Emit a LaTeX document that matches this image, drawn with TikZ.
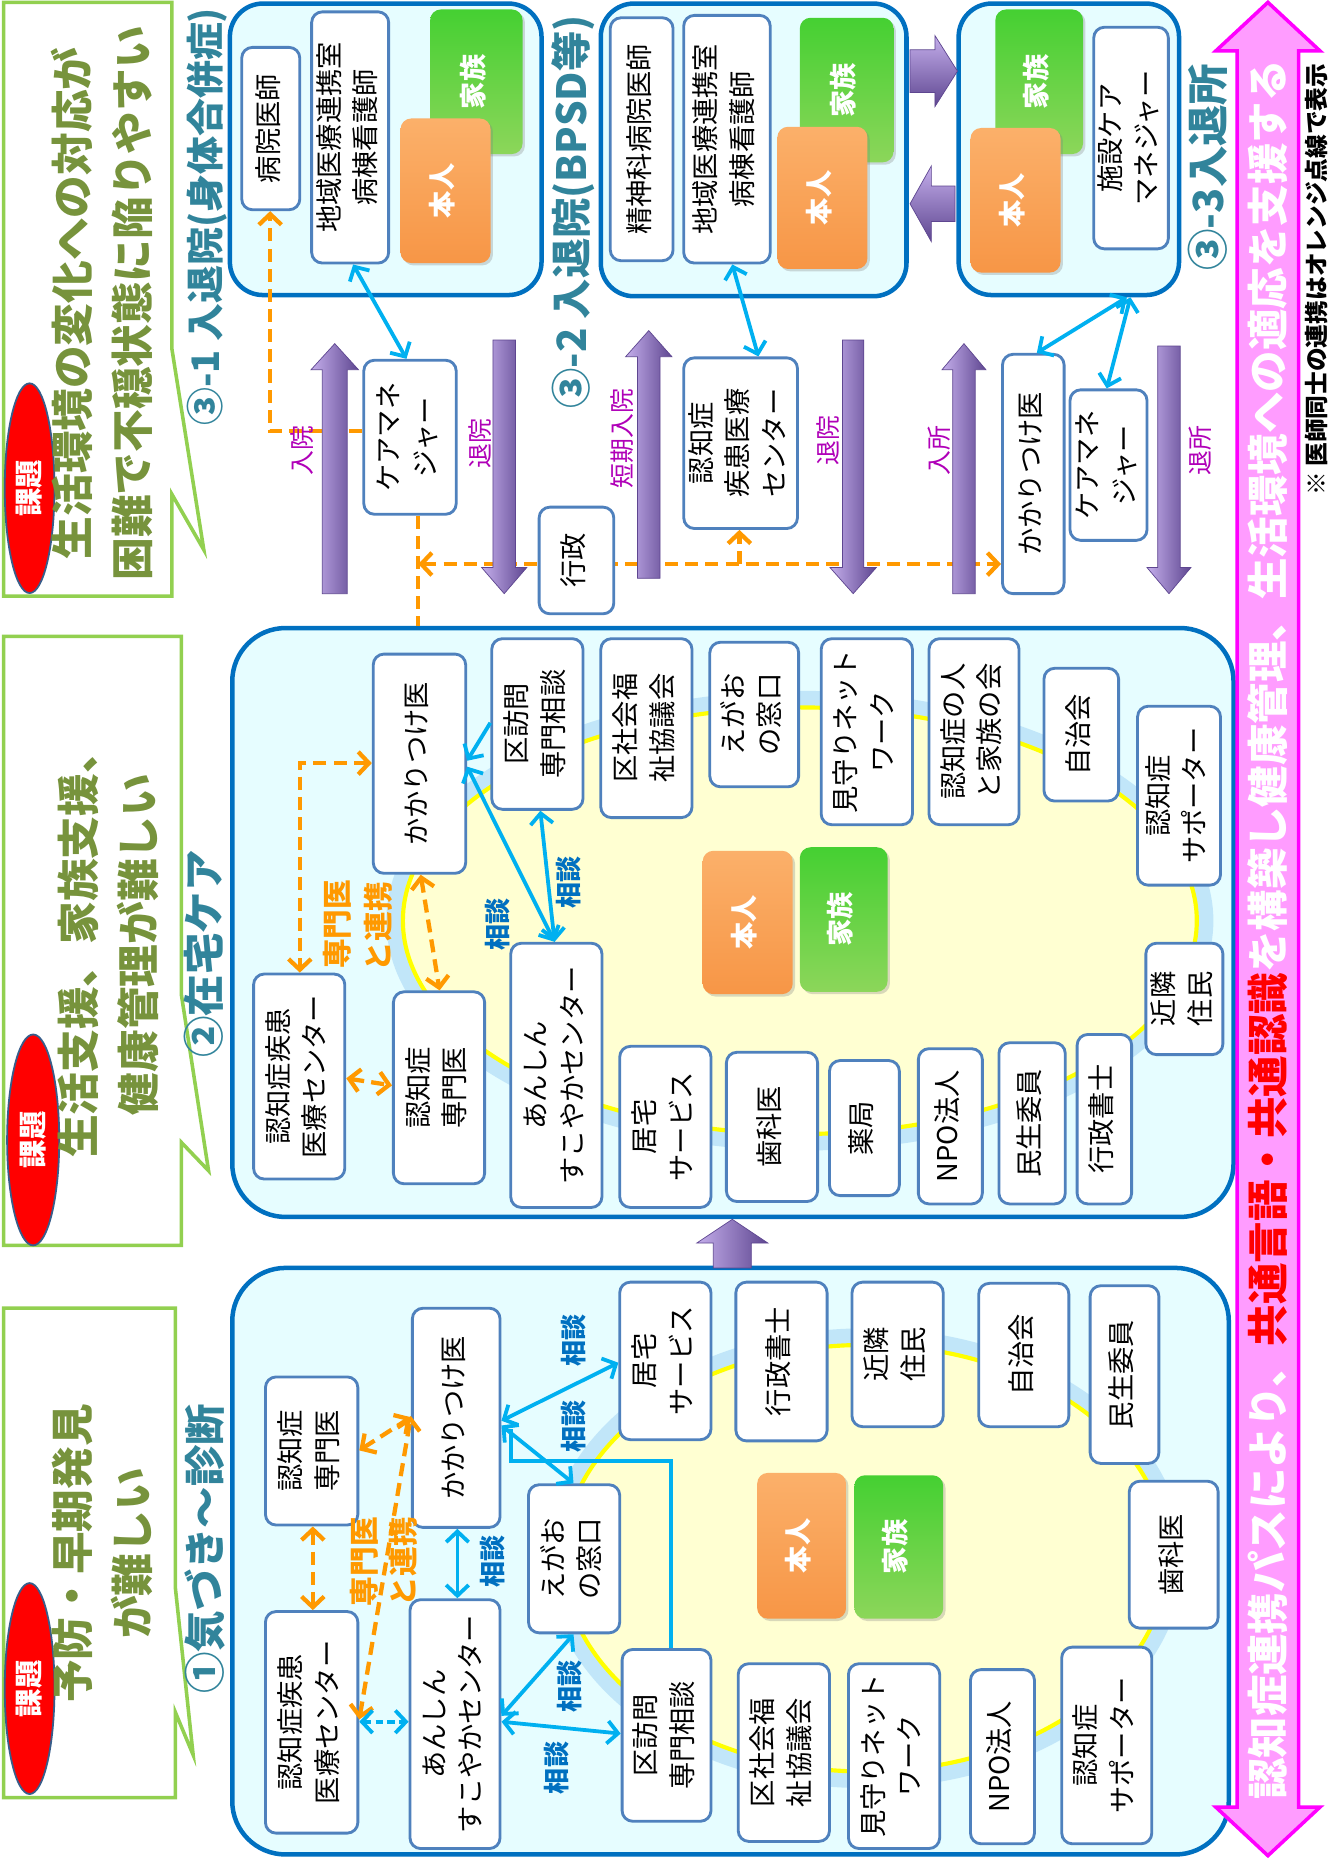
\documentclass[tikz,border=0pt]{standalone}
\usepackage{fontspec}
\setmainfont{Noto Sans CJK JP}
\usetikzlibrary{arrows.meta,shapes.geometric,shadows}
\definecolor{boxblue}{HTML}{4F81BD}
\definecolor{contblue}{HTML}{0070C0}
\definecolor{contfill}{HTML}{E6FDFF}
\definecolor{ellfill}{HTML}{FFFFD2}
\definecolor{ellline}{HTML}{FFFF00}
\definecolor{glowblue}{HTML}{A9D8F5}
\definecolor{dorange}{HTML}{FF9900}
\definecolor{arrblue}{HTML}{00B0F0}
\definecolor{sodanblue}{HTML}{0070C0}
\definecolor{teal3}{HTML}{31849B}
\definecolor{maglab}{HTML}{B000B8}
\definecolor{pinkfill}{HTML}{FF9CFF}
\definecolor{pinkline}{HTML}{FF00FF}
\definecolor{issuegreen}{HTML}{77933C}
\definecolor{issueline}{HTML}{92D050}
\definecolor{ellborder}{HTML}{385D8A}
\definecolor{honinA}{HTML}{FBB06A}
\definecolor{honinB}{HTML}{F79646}
\definecolor{kazokuA}{HTML}{45D032}
\definecolor{kazokuB}{HTML}{8CD65A}
\definecolor{purpL}{HTML}{C4AEEB}
\definecolor{purpD}{HTML}{5E4690}
\definecolor{redtxt}{HTML}{FF0000}
\pgfdeclarelayer{bg}\pgfdeclarelayer{mid}\pgfdeclarelayer{midtwo}
\pgfsetlayers{bg,mid,midtwo,main}
\tikzset{
  wbox/.style={draw=boxblue, line width=2.4pt, fill=white, rounded corners=9pt, inner sep=0pt, font=\fontsize{23}{31}\selectfont},
  honinbox/.style={rounded corners=9pt, inner sep=0pt, text=white, top color=honinA, bottom color=honinB, font=\bfseries\fontsize{23}{30}\selectfont, drop shadow={opacity=0.3, shadow xshift=2pt, shadow yshift=-2pt}},
  kazokubox/.style={rounded corners=9pt, inner sep=0pt, text=white, top color=kazokuA, bottom color=kazokuB, font=\bfseries\fontsize{23}{30}\selectfont, drop shadow={opacity=0.3, shadow xshift=2pt, shadow yshift=-2pt}},
  cont/.style={draw=contblue, line width=3.8pt, fill=contfill, inner sep=0pt},
  odash/.style={draw=dorange, line width=3.6pt, dash pattern=on 11pt off 6pt},
  barr/.style={draw=arrblue, line width=3.2pt},
  pshade/.style={left color=purpL, right color=purpD, draw=purpD, line width=0.6pt},
  pshadeh/.style={top color=purpL, bottom color=purpD, draw=purpD, line width=0.6pt},
  seclab/.style={text=teal3, font=\bfseries\fontsize{#1}{#1}\selectfont, inner sep=0pt},
  mlab/.style={text=maglab, font=\fontsize{21}{21}\selectfont, inner sep=0pt},
  sodan/.style={text=sodanblue, font=\bfseries\fontsize{22}{22}\selectfont, inner sep=0pt},
  senmon/.style={text=dorange, font=\bfseries\fontsize{25}{25}\selectfont, inner sep=0pt},
  itext/.style={text=issuegreen, font=\bfseries\fontsize{36}{50}\selectfont, inner sep=0pt},
  ibox/.style={draw=issueline, line width=3pt, fill=white},
  redell/.style={ellipse, fill=red, draw=ellborder, line width=1.5pt, text=white, inner sep=0pt, font=\bfseries\fontsize{24}{24}\selectfont}
}
\newcommand\mkbox[7]{\node[#1, minimum width={(#5-#3)*1pt}, minimum height={(#6-#4)*1pt}] (#2) at ({(#3+#5)/2},{(#4+#6)/2}) {\rotatebox{90}{\begin{tabular}{@{}c@{}}#7\end{tabular}}};}
\newcommand\mkrect[6]{\node[#1, minimum width={(#5-#3)*1pt}, minimum height={(#6-#4)*1pt}] (#2) at ({(#3+#5)/2},{(#4+#6)/2}) {};}
\newcommand\purpv[6]{\path[pshade] (#1,#2) -- ({#1+#5},#3) -- ({#1+#6},#3) -- ({#1+#6},#4) -- ({#1-#6},#4) -- ({#1-#6},#3) -- ({#1-#5},#3) -- cycle;}
\newcommand\purph[6]{\path[pshadeh] (#2,#1) -- (#3,{#1-#5}) -- (#3,{#1-#6}) -- (#4,{#1-#6}) -- (#4,{#1+#6}) -- (#3,{#1+#6}) -- (#3,{#1+#5}) -- cycle;}
\begin{document}
\begin{tikzpicture}[x=1pt,y=-1pt,>={Straight Barb[length=9pt,width=19pt]}]
\useasboundingbox (0,0) rectangle (1122,1568);
\begin{pgfonlayer}{bg}
\fill[white] (0,0) rectangle (1122,1568);
\mkrect{cont, rounded corners=28pt}{c31}{194}{3}{457}{249}
\mkrect{cont, rounded corners=28pt}{c32}{507}{3}{765}{250}
\mkrect{cont, rounded corners=28pt}{c33}{809}{3}{995}{249}
\mkrect{cont, rounded corners=45pt}{c2}{196}{530}{1041}{1027}
\mkrect{cont, rounded corners=45pt}{c1}{196}{1070}{1037}{1565}
\draw[glowblue, line width=14pt, opacity=0.6] (675,777) ellipse [x radius=342pt, y radius=187pt];
\draw[draw=ellline, fill=ellfill, line width=3.5pt] (675,777) ellipse [x radius=335pt, y radius=180pt];
\draw[glowblue, line width=14pt, opacity=0.6] (730,1315) ellipse [x radius=262pt, y radius=187pt];
\draw[draw=ellline, fill=ellfill, line width=3.5pt] (730,1315) ellipse [x radius=255pt, y radius=180pt];
\end{pgfonlayer}

% issue boxes
\draw[ibox] (3,2) -- (145,2) -- (145,294) -- (172,464) -- (145,417) -- (145,503) -- (3,503) -- cycle;
\draw[ibox] (3,537) -- (153,537) -- (153,839) -- (176,988) -- (153,964) -- (153,1051) -- (3,1051) -- cycle;
\draw[ibox] (3,1104) -- (148,1104) -- (148,1340) -- (163,1481) -- (148,1445) -- (148,1517) -- (3,1517) -- cycle;
\node[redell, minimum width=42pt, minimum height=177pt] (e1) at (25,412) {\rotatebox{90}{課題}};
\node[redell, minimum width=44pt, minimum height=178pt] (e2) at (28,962) {\rotatebox{90}{課題}};
\node[redell, minimum width=42pt, minimum height=178pt] (e3) at (25,1425) {\rotatebox{90}{課題}};
\node[itext] (t1) at (90,256) {\rotatebox{90}{\begin{tabular}{@{}c@{}}生活環境の変化への対応が\\困難で不穏状態に陥りやすい\end{tabular}}};
\node[itext] (t2) at (95,797) {\rotatebox{90}{\begin{tabular}{@{}c@{}}生活支援、家族支援、\\健康管理が難しい\end{tabular}}};
\node[itext] (t3) at (90,1311) {\rotatebox{90}{\begin{tabular}{@{}c@{}}予防・早期発見\\が難しい\end{tabular}}};

% section labels
\node[seclab=32] (l31) at (175,183) {\rotatebox{90}{③-1 入退院(身体合併症)}};
\node[seclab=34] (l32) at (484,179) {\rotatebox{90}{③-2 入退院(BPSD等)}};
\node[seclab=35] (l33) at (1019,141) {\rotatebox{90}{③-3入退所}};
\node[seclab=35] (l2) at (172,805) {\rotatebox{90}{②在宅ケア}};
\node[seclab=35] (l1) at (173,1307) {\rotatebox{90}{①気づき～診断}};

% section 3-1
\mkbox{wbox}{hd}{204}{40}{253}{177}{病院医師}
\mkbox{wbox}{cr1}{263}{10}{328}{222}{地域医療連携室\\病棟看護師}
\mkbox{kazokubox}{kz31}{363}{8}{441}{130}{家族}
\mkbox{honinbox}{hn31}{338}{100}{414}{222}{本人}
\mkbox{wbox}{km1}{307}{304}{385}{434}{ケアマネ\\ジャー}
% section 3-2
\mkbox{wbox}{ps}{515}{15}{568}{220}{精神科病院医師}
\mkbox{wbox}{cr2}{577}{13}{650}{222}{地域医療連携室\\病棟看護師}
\mkbox{kazokubox}{kz32}{675}{15}{754}{137}{家族}
\mkbox{honinbox}{hn32}{656}{107}{732}{227}{本人}
\mkbox{wbox}{nc3}{577}{302}{673}{446}{認知症\\疾患医療\\センター}
\mkbox{wbox}{gy}{455}{428}{518}{518}{行政}
% section 3-3
\mkbox{kazokubox}{kz33}{840}{8}{914}{130}{家族}
\mkbox{honinbox}{hn33}{819}{108}{895}{230}{本人}
\mkbox{wbox}{sc}{923}{23}{986}{210}{施設ケア\\マネジャー}
\mkbox{wbox}{kk3}{846}{299}{898}{501}{かかりつけ医}
\mkbox{wbox}{cm3}{903}{329}{968}{456}{ケアマネ\\ジャー}

% section 2
\mkbox{wbox}{kk2}{315}{552}{393}{737}{かかりつけ医}
\mkbox{wbox}{ku2}{415}{539}{492}{683}{区訪問\\専門相談}
\mkbox{wbox}{sk2}{507}{539}{584}{690}{区社会福\\祉協議会}
\mkbox{wbox}{eg2}{599}{542}{674}{664}{えがお\\の窓口}
\mkbox{wbox}{mm2}{693}{539}{770}{696}{見守りネット\\ワーク}
\mkbox{wbox}{kf2}{784}{539}{860}{696}{認知症の人\\と家族の会}
\mkbox{wbox}{jc2}{881}{564}{944}{676}{自治会}
\mkbox{wbox}{sp2}{960}{596}{1030}{747}{認知症\\サポーター}
\mkbox{wbox}{kn2}{967}{796}{1032}{890}{近隣\\住民}
\mkbox{wbox}{gs2}{909}{873}{955}{1016}{行政書士}
\mkbox{wbox}{mi2}{843}{880}{899}{1016}{民生委員}
\mkbox{wbox}{np2}{775}{885}{829}{1016}{NPO法人}
\mkbox{wbox}{yk2}{700}{895}{759}{1009}{薬局}
\mkbox{wbox}{sh2}{613}{888}{690}{1014}{歯科医}
\mkbox{wbox}{kt2}{523}{883}{600}{1019}{居宅\\サービス}
\mkbox{wbox}{an2}{431}{796}{508}{1019}{あんしん\\すこやかセンター}
\mkbox{wbox}{sm2}{332}{837}{409}{999}{認知症\\専門医}
\mkbox{wbox}{nc2}{214}{822}{291}{995}{認知症疾患\\医療センター}
\mkbox{honinbox}{hn2}{593}{718}{669}{839}{本人}
\mkbox{kazokubox}{kz2}{675}{715}{749}{837}{家族}

% section 1
\mkbox{wbox}{kk1}{348}{1104}{422}{1289}{かかりつけ医}
\mkbox{wbox}{sm1}{224}{1162}{302}{1287}{認知症\\専門医}
\mkbox{wbox}{nc1}{224}{1360}{302}{1547}{認知症疾患\\医療センター}
\mkbox{wbox}{an1}{346}{1350}{422}{1560}{あんしん\\すこやかセンター}
\mkbox{wbox}{eg1}{446}{1253}{523}{1378}{えがお\\の窓口}
\mkbox{wbox}{kt1}{523}{1082}{600}{1215}{居宅\\サービス}
\mkbox{wbox}{gs1}{621}{1082}{698}{1216}{行政書士}
\mkbox{wbox}{kn1}{719}{1082}{796}{1204}{近隣\\住民}
\mkbox{wbox}{jc1}{826}{1083}{902}{1204}{自治会}
\mkbox{wbox}{mi1}{920}{1085}{978}{1235}{民生委員}
\mkbox{wbox}{sh1}{953}{1250}{1028}{1374}{歯科医}
\mkbox{wbox}{sp1}{896}{1390}{972}{1556}{認知症\\サポーター}
\mkbox{wbox}{np1}{819}{1409}{873}{1556}{NPO法人}
\mkbox{wbox}{mm1}{716}{1404}{793}{1560}{見守りネット\\ワーク}
\mkbox{wbox}{sk1}{623}{1404}{700}{1554}{区社会福\\祉協議会}
\mkbox{wbox}{ku1}{525}{1392}{600}{1537}{区訪問\\専門相談}
\mkbox{honinbox}{hn1}{639}{1243}{714}{1366}{本人}
\mkbox{kazokubox}{kz1}{721}{1245}{796}{1366}{家族}

% orange dashed connectors (under boxes)
\begin{pgfonlayer}{mid}
\draw[odash,->] (km1.west |- 0,364) -| (hd.south -| 228,0);
\draw[odash] (km1.south -| 353,0) -- (c2.north -| 353,0);
\coordinate (jn) at (353,476);
\coordinate (br) at (624,476);
\draw[odash,<->] (jn) -- (kk3.west |- jn);
\draw[odash,->] (br) -- (nc3.south -| br);
\end{pgfonlayer}

% purple arrows
\begin{pgfonlayer}{midtwo}
\purpv{282.5}{290}{312}{501}{20}{10.5}
\purpv{425.5}{501}{479}{287}{19}{9.5}
\purpv{547.5}{279}{301}{488}{19.5}{9.5}
\purpv{720}{501}{479}{287}{19.5}{9}
\purpv{813.5}{290}{312}{501}{18.5}{9.5}
\purpv{986.5}{501}{479}{292}{18.5}{9.5}
\purpv{618}{1029}{1049}{1070}{30}{16}
\purph{60}{808}{789}{768}{30}{18}
\purph{172}{768}{786}{806}{32}{15}
\end{pgfonlayer}

% orange dashed in sections 2 and 1
\draw[odash,<->] (kk2.west |- 0,644) -| (nc2.north -| 253,0);
\draw[odash,<->] (kk2.south -| 355,0) -- (sm2.north -| 371,0);
\draw[odash,<->] (nc2.east |- 0,910) -- (sm2.west |- 0,916);
\draw[odash,<->] (sm1.east |- 0,1224) -- (kk1.west |- 0,1196);
\draw[odash,<->] (sm1.south -| 264,0) -- (nc1.north -| 264,0);
\draw[odash,<->] (nc1.east |- 0,1451) -- (kk1.west |- 0,1195);

% blue connectors
\draw[barr,<->] (cr1.south -| 298,0) -- (km1.north -| 343,0);
\draw[barr,<->] (cr2.south -| 618,0) -- (nc3.north -| 640,0);
\draw[barr,<->] (c33.south -| 951,0) -- (kk3.north -| 875,0);
\draw[barr,<->] (c33.south -| 954,0) -- (cm3.north -| 934,0);
\draw[barr,<->] (kk2.east |- 0,647) -- (an2.north -| 468,0);
\draw[barr,->] (ku2.west |- 0,610) -- (kk2.east |- 0,642);
\draw[barr,<->] (ku2.south -| 456,0) -- (an2.north -| 468,0);
\draw[barr,<->] (kk1.east |- 0,1199) -- (kt1.west |- 0,1150);
\draw[barr,<->] (kk1.east |- 0,1203) -- (eg1.north -| 484,0);
\draw[barr,<->] (kk1.south -| 386,0) -- (an1.north -| 386,0);
\draw[barr,<->] (an1.east |- 0,1448) -- (eg1.south -| 484,0);
\draw[barr,<->] (an1.east |- 0,1453) -- (ku1.west |- 0,1463);
\draw[barr,<->,dash pattern=on 6pt off 4pt] (nc1.east |- 0,1453) -- (an1.west |- 0,1453);
\draw[barr] (ku1.north -| 566,0) |- (431,1233) -- (431,1206);

% small labels
\node[mlab] (m1) at (255,380) {\rotatebox{90}{入院}};
\node[mlab] (m2) at (405,374) {\rotatebox{90}{退院}};
\node[mlab] (m3) at (525,370) {\rotatebox{90}{短期入院}};
\node[mlab] (m4) at (699,372) {\rotatebox{90}{退院}};
\node[mlab] (m5) at (793,380) {\rotatebox{90}{入所}};
\node[mlab] (m6) at (1013,380) {\rotatebox{90}{退所}};
\node[sodan] (s1) at (420,780) {\rotatebox{90}{相談}};
\node[sodan] (s2) at (480,745) {\rotatebox{90}{相談}};
\node[sodan] (s3) at (416,1318) {\rotatebox{90}{相談}};
\node[sodan] (s4) at (484,1131) {\rotatebox{90}{相談}};
\node[sodan] (s5) at (484,1204) {\rotatebox{90}{相談}};
\node[sodan] (s6) at (481,1423) {\rotatebox{90}{相談}};
\node[sodan] (s7) at (470,1492) {\rotatebox{90}{相談}};
\node[senmon] (r1) at (285,780) {\rotatebox{90}{専門医}};
\node[senmon] (r2) at (319,782) {\rotatebox{90}{と連携}};
\node[senmon] (r3) at (307,1318) {\rotatebox{90}{専門医}};
\node[senmon] (r4) at (340,1318) {\rotatebox{90}{と連携}};

% pink double arrow
\draw[fill=pinkfill, draw=pinkline, line width=3pt, line join=miter] (1070,2) -- (1114,43) -- (1096,43) -- (1096,1525) -- (1114,1525) -- (1070,1566) -- (1026,1525) -- (1044,1525) -- (1044,43) -- (1026,43) -- cycle;
\node[rotate=90, inner sep=0pt, font=\bfseries\fontsize{35}{35}\selectfont] (ptxt) at (1070,785) {\textcolor{white}{認知症連携パスにより、}\textcolor{redtxt}{共通言語・共通認識}\textcolor{white}{を構築し健康管理、生活環境への適応を支援する}};
\node[rotate=90, inner sep=0pt, font=\bfseries\fontsize{20}{20}\selectfont] (note) at (1111,236) {※ 医師同士の連携はオレンジ点線で表示};
\end{tikzpicture}
\end{document}
